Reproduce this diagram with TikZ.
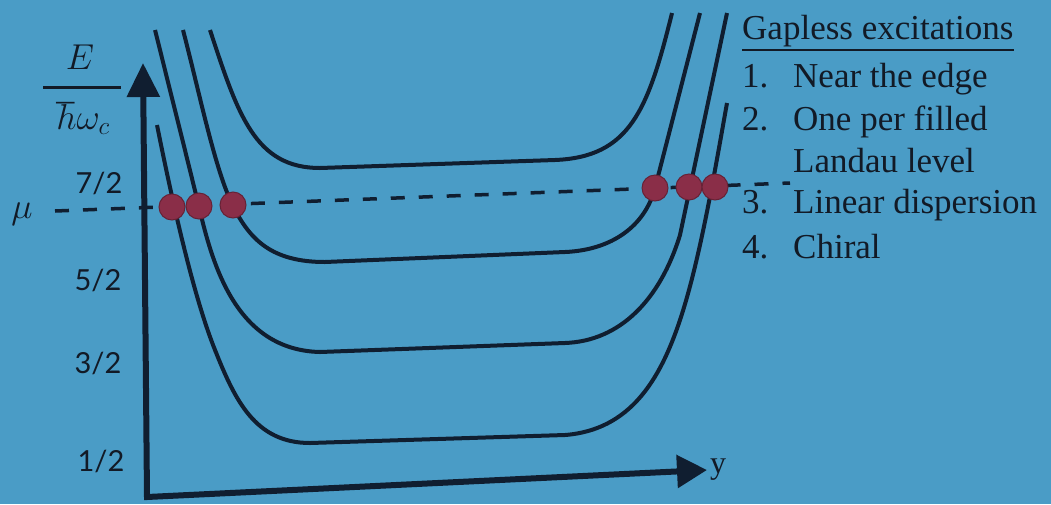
\RequirePackage{fix-cm}
\documentclass[tikz,border=0pt]{standalone}
\usepackage{fontspec}
\setmainfont{Liberation Serif}
\newfontfamily\tickfont{Lato}
\usetikzlibrary{arrows.meta}
\definecolor{bg}{RGB}{74,156,198}
\definecolor{ink}{RGB}{16,30,48}
\definecolor{txt}{RGB}{18,26,38}
\definecolor{dotc}{RGB}{138,46,72}
\begin{document}
\begin{tikzpicture}[x=1pt,y=-1pt,
  curve/.style={ink, line width=4pt},
  axis/.style={ink, line width=6pt, line join=miter,
    {Triangle[length=34pt,width=32pt]}-{Triangle[length=30pt,width=32pt]}},
  mudash/.style={ink, line width=3.5pt, dash pattern=on 14pt off 14pt},
  edot/.style={circle, fill=dotc, draw=dotc!75!black, line width=1pt, minimum size=26pt, inner sep=0pt},
  lbl/.style={font=\fontsize{35}{40}\selectfont, anchor=base west, inner sep=0pt, text=txt},
  ticklbl/.style={font=\tickfont\fontsize{29}{34}\selectfont, inner sep=0pt, text=txt},
  mathlbl/.style={font=\fontsize{36}{40}\selectfont, text=txt, inner sep=0pt},
]
\useasboundingbox (0,0) rectangle (1051,504);
\fill[bg] (0,0) rectangle (1051,504);

% axes
\coordinate (origin) at (147,497);
\coordinate (ytip) at (143,63);
\coordinate (xtip) at (707,470);
\draw[axis] (ytip) -- (origin) -- (xtip);

% chemical potential line
\coordinate (mu0) at (55,211);
\coordinate (mu1) at (790,183);
\draw[mudash] (mu0) -- (mu1);

% Landau level dispersions
% n = 7/2
\draw[curve] (210,30) .. controls (238,115) and (255,168) .. (320,168) -- (555,160)
  .. controls (630,157) and (648,110) .. (672,13);
% n = 5/2
\draw[curve] (183,30) .. controls (200,95) and (215,170) .. (233,206)
  .. controls (250,240) and (272,262) .. (325,262) -- (565,252)
  .. controls (612,250) and (645,226) .. (655,188) -- (700,13);
% n = 3/2
\draw[curve] (155,30) .. controls (170,90) and (190,170) .. (199,207)
  .. controls (212,262) and (235,350) .. (320,352) -- (565,343)
  .. controls (620,341) and (660,300) .. (680,235) -- (727,13);
% n = 1/2
\draw[curve] (157,125) .. controls (175,215) and (195,300) .. (215,350)
  .. controls (235,400) and (255,443) .. (310,443) -- (565,435)
  .. controls (630,430) and (660,380) .. (680,320)
  .. controls (700,260) and (715,170) .. (727,103);

% edge states at mu
\node[edot] (d1) at (172,207) {};
\node[edot] (d2) at (199,206) {};
\node[edot] (d3) at (233,205) {};
\node[edot] (d4) at (655,188) {};
\node[edot] (d5) at (689,187) {};
\node[edot] (d6) at (715,187) {};

% axis labels
\node[mathlbl] (E) at (80,57) {$E$};
\draw[txt, line width=3pt] (43,87) -- (121,87);
\node[mathlbl, anchor=base] (hw) at (83,129) {$\hbar\omega_c$};
\node[mathlbl] (mu) at (22,214) {$\mu$};
\node[ticklbl] (t7) at (99,183) {7/2};
\node[ticklbl] (t5) at (98,280) {5/2};
\node[ticklbl] (t3) at (98,363) {3/2};
\node[ticklbl] (t1) at (101,461) {1/2};
\node[font=\fontsize{32}{36}\selectfont, text=txt, inner sep=0pt, anchor=west] (ylab) at (710,470) {y};

% list
\node[lbl] (title) at (742,39) {Gapless excitations};
\draw[txt, line width=2.5pt] ([yshift=-11pt]title.base west) -- ([yshift=-11pt]title.base east);
\node[lbl] (n1) at (742,87) {1.};
\node[lbl] (i1) at (793,87) {Near the edge};
\node[lbl] (n2) at (742,130) {2.};
\node[lbl] (i2) at (793,130) {One per filled};
\node[lbl] (i2b) at (793,172) {Landau level};
\node[lbl] (n3) at (742,213) {3.};
\node[lbl] (i3) at (793,213) {Linear dispersion};
\node[lbl] (n4) at (742,258) {4.};
\node[lbl] (i4) at (793,258) {Chiral};
\end{tikzpicture}
\end{document}
